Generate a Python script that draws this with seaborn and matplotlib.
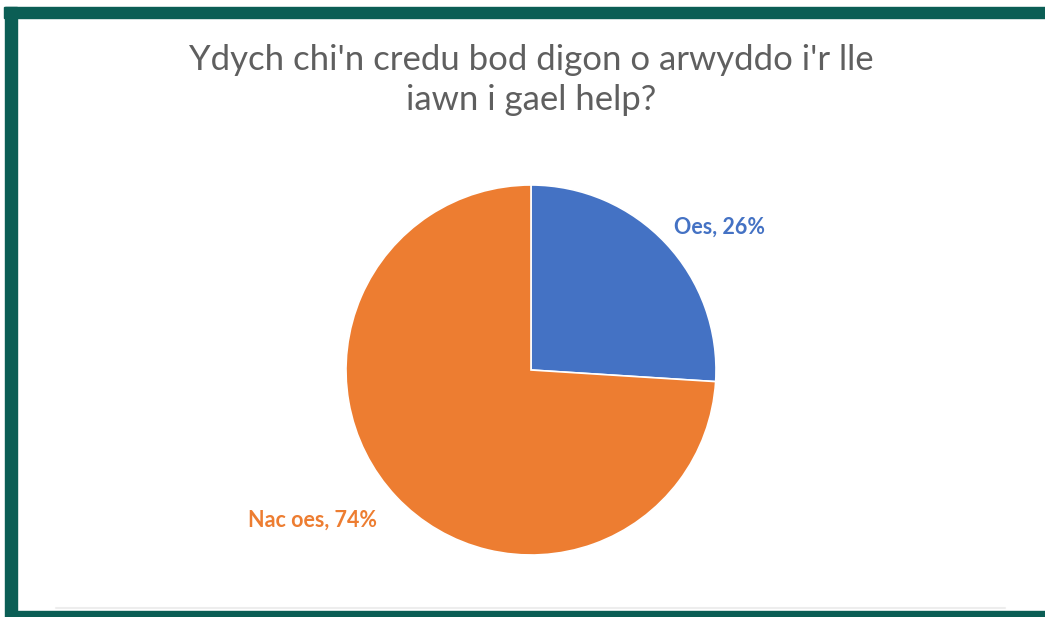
import matplotlib
matplotlib.use("Agg")
import matplotlib.pyplot as plt
import seaborn as sns
from matplotlib.patches import Rectangle
from matplotlib.lines import Line2D

# Data
categories = ["Oes", "Nac oes"]
values = [26, 74]
colors = ["#4472C4", "#ED7D31"]
title = "Ydych chi'n credu bod digon o arwyddo i'r lle\niawn i gael help?"

sns.set_theme(style="white")
plt.rcParams["font.family"] = ["Lato", "DejaVu Sans"]

W, H = 1045, 617
fig = plt.figure(figsize=(W / 100, H / 100), dpi=100)
fig.patch.set_facecolor("white")

# Border frame (dark green)
green = "#0B5E55"
def px_rect(x0, y0, x1, y1, color):
    fig.patches.append(Rectangle((x0 / W, 1 - y1 / H), (x1 - x0) / W, (y1 - y0) / H,
                                 transform=fig.transFigure, color=color, zorder=5))
px_rect(4, 7, W, 18, green)       # top
px_rect(5, 7, 17, H, green)       # left
px_rect(9, 611, W, H, green)      # bottom
fig.lines.append(Line2D([56 / W, 1005 / W], [1 - 608 / H, 1 - 608 / H],
                        transform=fig.transFigure, color="#EDEDED", lw=1.5))

# Title
fig.text(531 / W, 1 - 80 / H, title, ha="center", va="center", fontsize=25,
         color="#5F5F5F", linespacing=1.3)

# Pie
cx, cy, r = 531, 370, 185
ax = fig.add_axes([(cx - r) / W, 1 - (cy + r) / H, 2 * r / W, 2 * r / H])
wedges, _ = ax.pie(values, colors=colors, startangle=90, counterclock=False,
                   wedgeprops=dict(edgecolor="white", linewidth=1.2))
ax.set_xlim(-1, 1)
ax.set_ylim(-1, 1)
ax.set_aspect("equal")
ax.axis("off")

label_pos = [(1.02, 0.77), (-1.18, -0.81)]
for cat, val, col, (lx, ly) in zip(categories, values, colors, label_pos):
    ax.text(lx, ly, f"{cat}, {val}%", ha="center", va="center", fontsize=15.5,
            fontweight="bold", color=col, clip_on=False)

fig.savefig("out.png", dpi=100, facecolor="white")
